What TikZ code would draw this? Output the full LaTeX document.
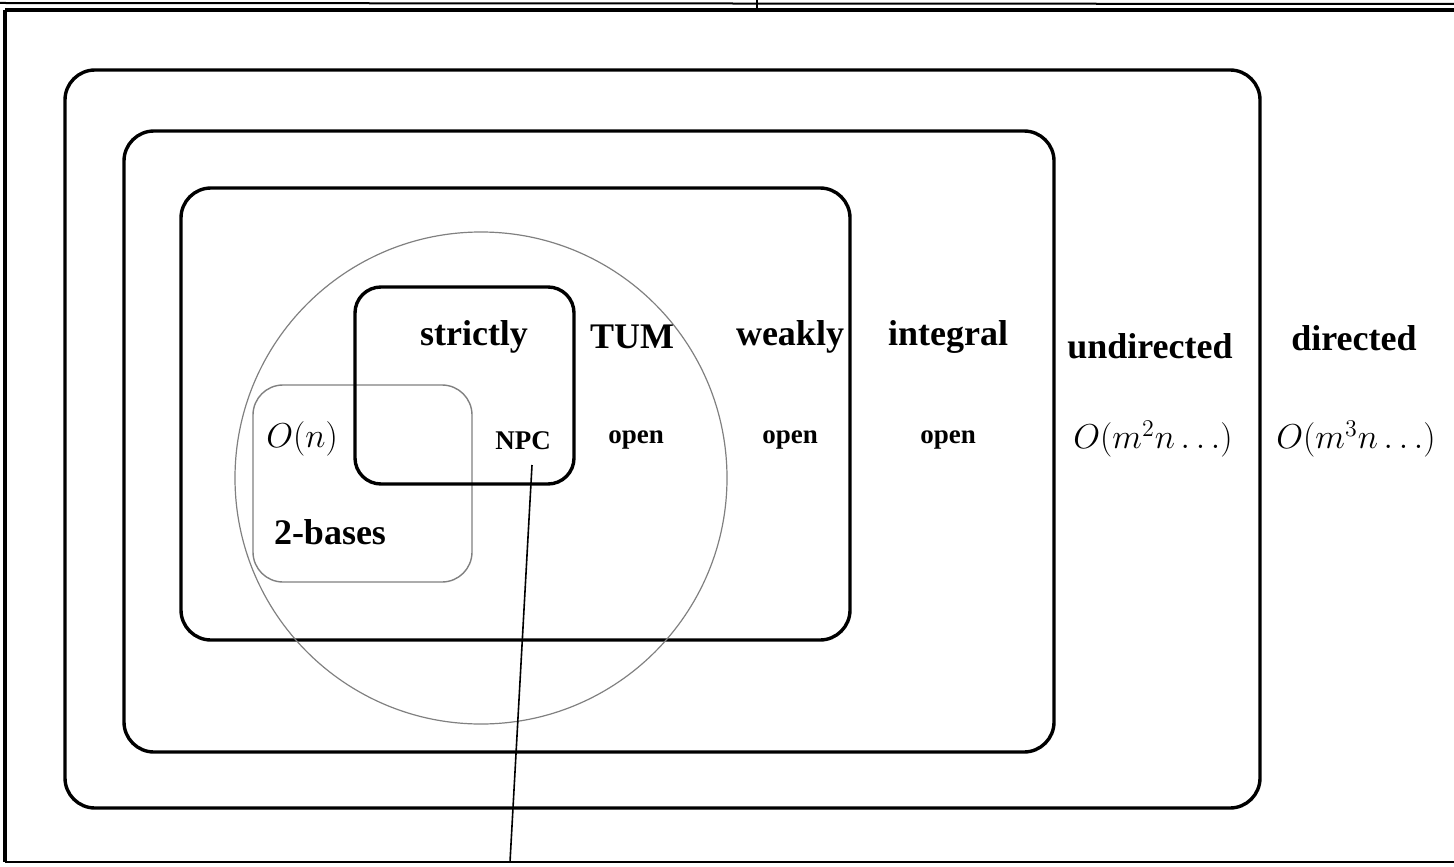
\documentclass[tikz,border=0pt]{standalone}
\usepackage{fontspec}
\setmainfont{Liberation Serif}
\begin{document}
\begin{tikzpicture}[x=0.5pt,y=-0.5pt,
  big/.style={font=\fontsize{18}{21}\selectfont\bfseries, inner sep=0pt},
  small/.style={font=\fontsize{13.5}{16}\selectfont\bfseries, inner sep=0pt},
  mathlbl/.style={font=\fontsize{17.5}{20}\selectfont, inner sep=0pt},
  setbox/.style={draw, line width=1.7pt, rounded corners=15pt},
  frameline/.style={line width=1.6pt},
  thinset/.style={draw=black!50, line width=0.6pt},
  leader/.style={line width=0.8pt}]
\useasboundingbox (0,0) rectangle (1454,866);
% page frame (scan edges)
\draw[line width=1pt] (0,3) -- (1454,4);
\draw[line width=2pt] (5,10) -- (1454,10);
\draw[line width=0.6pt] (757,0) -- (757,9);
\draw[frameline] (5,10) -- (5,862);
\draw[line width=1.1pt] (5,862) -- (1454,862);
% nested sets
\draw[setbox] (65,70) rectangle (1260,808);
\draw[setbox] (124,131) rectangle (1054,752);
\draw[setbox] (181,188) rectangle (850,640);
\draw[thinset] (481,478) ellipse [x radius=123pt, y radius=123pt];
\draw[thinset, line width=0.7pt, rounded corners=15pt] (253,385) rectangle (472,582);
\draw[setbox, rounded corners=13pt] (355,287) rectangle (574,484);
% labels
\node[big] (strictly) at (474,337) {strictly};
\node[big] (tum) at (632,337) {TUM};
\node[big] (weakly) at (790,337) {weakly};
\node[big] (integral) at (948,337) {integral};
\node[big] (undirected) at (1150,346) {undirected};
\node[big] (directed) at (1354,338) {directed};
\node[mathlbl] (on) at (302,439) {$O(n)$};
\node[small] (npc) at (523,441) {NPC};
\node[small] (open1) at (636,440) {open};
\node[small] (open2) at (790,440) {open};
\node[small] (open3) at (948,440) {open};
\node[mathlbl] (und) at (1153,439) {$O(m^2n\ldots)$};
\node[mathlbl] (dir) at (1356,439) {$O(m^3n\ldots)$};
\node[big] (twob) at (330,532) {2-bases};
% leader line from NPC
\coordinate (npcfoot) at (532,465);
\coordinate (pagefoot) at (510,862);
\draw[leader] (npcfoot) -- (pagefoot);
\end{tikzpicture}
\end{document}
